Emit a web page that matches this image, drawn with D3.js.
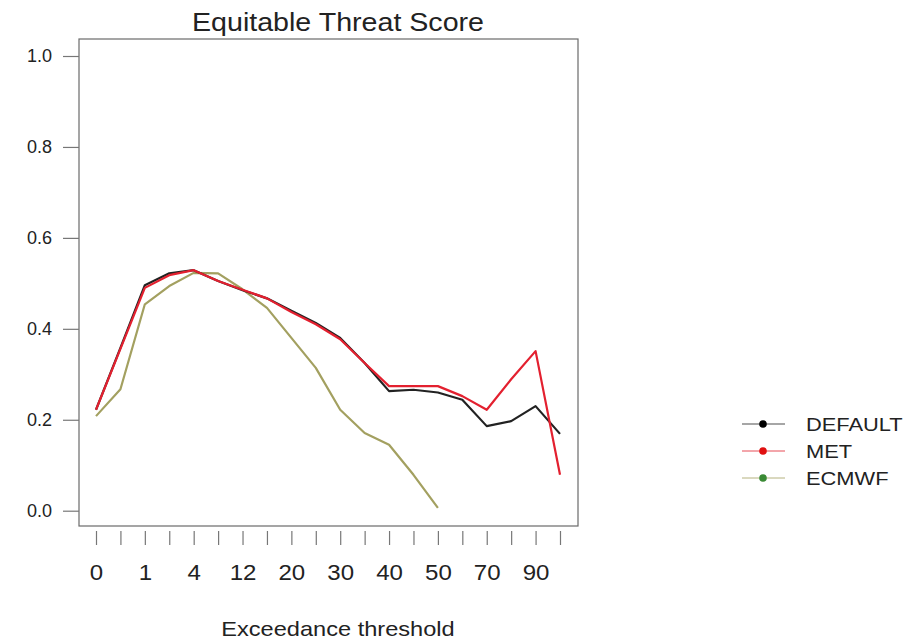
<!DOCTYPE html>
<html>
<head>
<meta charset="utf-8">
<script src="https://cdn.jsdelivr.net/npm/d3@7"></script>
<style>
  body { margin: 0; background: #fff; }
  text { font-family: "Liberation Sans", Arial, Helvetica, sans-serif; fill: #222; }
</style>
</head>
<body>
<svg id="chart" width="910" height="642"></svg>
<script>
// Threshold ticks along the x axis; only every other tick carries a label.
const xTickLabels = ["0", "", "1", "", "4", "", "12", "", "20", "", "30", "", "40", "", "50", "", "70", "", "90", ""];
const yTickValues = [0, 0.2, 0.4, 0.6, 0.8, 1.0];

// Equitable threat score per threshold for each forecast source.
const seriesNames = ["DEFAULT", "MET", "ECMWF"];
const defaultScores = [0.222, 0.358, 0.496, 0.522, 0.529, 0.505, 0.485, 0.467, 0.440, 0.413,
                       0.380, 0.325, 0.263, 0.266, 0.260, 0.244, 0.186, 0.197, 0.230, 0.169];
const metScores     = [0.222, 0.356, 0.490, 0.518, 0.529, 0.505, 0.486, 0.467, 0.437, 0.410,
                       0.377, 0.325, 0.274, 0.274, 0.274, 0.252, 0.222, 0.289, 0.351, 0.079];
const ecmwfScores   = [0.208, 0.267, 0.454, 0.494, 0.523, 0.522, 0.487, 0.446, 0.380, 0.314,
                       0.222, 0.171, 0.145, 0.079, 0.006];

const lineColors = ["#222222", "#e3202f", "#a3a060"];
const dotColors  = ["#000000", "#e01010", "#3a8a35"];

const svg = d3.select("#chart");

const frame = { left: 79, top: 39, right: 578, bottom: 526 };
const x = d3.scaleLinear().domain([0, xTickLabels.length - 1]).range([96, 560]);
const y = d3.scaleLinear().domain([0, 1]).range([510.7, 56]);

// Plot frame
svg.append("rect")
  .attr("x", frame.left).attr("y", frame.top)
  .attr("width", frame.right - frame.left).attr("height", frame.bottom - frame.top)
  .attr("fill", "none").attr("stroke", "#6a6a6a").attr("stroke-width", 1.2);

// X axis: ticks sit a little below the frame
const xAxis = svg.append("g")
  .attr("transform", `translate(0,531)`)
  .call(d3.axisBottom(x)
    .tickValues(d3.range(xTickLabels.length))
    .tickSize(14)
    .tickPadding(20)
    .tickFormat(i => xTickLabels[i]));
xAxis.select(".domain").remove();
xAxis.selectAll(".tick line").attr("stroke", "#777").attr("stroke-width", 1.2);
xAxis.selectAll(".tick text")
  .style("font-size", "21.5px")
  .attr("transform", "scale(1.12,1)");

// Y axis
const yAxis = svg.append("g")
  .attr("transform", `translate(${frame.left},0)`)
  .call(d3.axisLeft(y)
    .tickValues(yTickValues)
    .tickSize(16)
    .tickPadding(0)
    .tickFormat(d3.format(".1f")));
yAxis.select(".domain").remove();
yAxis.selectAll(".tick line").attr("stroke", "#777").attr("stroke-width", 1.2);
yAxis.selectAll(".tick text")
  .style("font-size", "18px")
  .attr("x", 0)
  .attr("transform", "translate(-27,0)");

// Lines
const line = d3.line().x((d, i) => x(i)).y(d => y(d));
const allSeries = [defaultScores, metScores, ecmwfScores];
const drawOrder = [2, 0, 1];
drawOrder.forEach(k => {
  svg.append("path")
    .datum(allSeries[k])
    .attr("fill", "none")
    .attr("stroke", lineColors[k])
    .attr("stroke-width", 2.2)
    .attr("stroke-linejoin", "round")
    .attr("d", line);
});

// Title and axis label
svg.append("text")
  .attr("transform", "translate(338,31) scale(1.1,1)")
  .attr("text-anchor", "middle")
  .style("font-size", "26px")
  .text("Equitable Threat Score");

svg.append("text")
  .attr("transform", "translate(338,636) scale(1.18,1)")
  .attr("text-anchor", "middle")
  .style("font-size", "20px")
  .text("Exceedance threshold");

// Legend
const legend = svg.append("g");
const legendY = d3.scalePoint().domain(seriesNames).range([424, 478]);
seriesNames.forEach((name, k) => {
  const g = legend.append("g").attr("transform", `translate(0,${legendY(name)})`);
  g.append("line")
    .attr("x1", 742).attr("x2", 785).attr("y1", 0).attr("y2", 0)
    .attr("stroke", lineColors[k]).attr("stroke-width", 1).attr("opacity", 0.8);
  g.append("circle")
    .attr("cx", 763).attr("cy", 0).attr("r", 3.8)
    .attr("fill", dotColors[k]);
  g.append("text")
    .attr("transform", "translate(806,0) scale(1.15,1)")
    .attr("dy", "0.36em")
    .style("font-size", "19px")
    .text(name);
});
</script>
</body>
</html>
